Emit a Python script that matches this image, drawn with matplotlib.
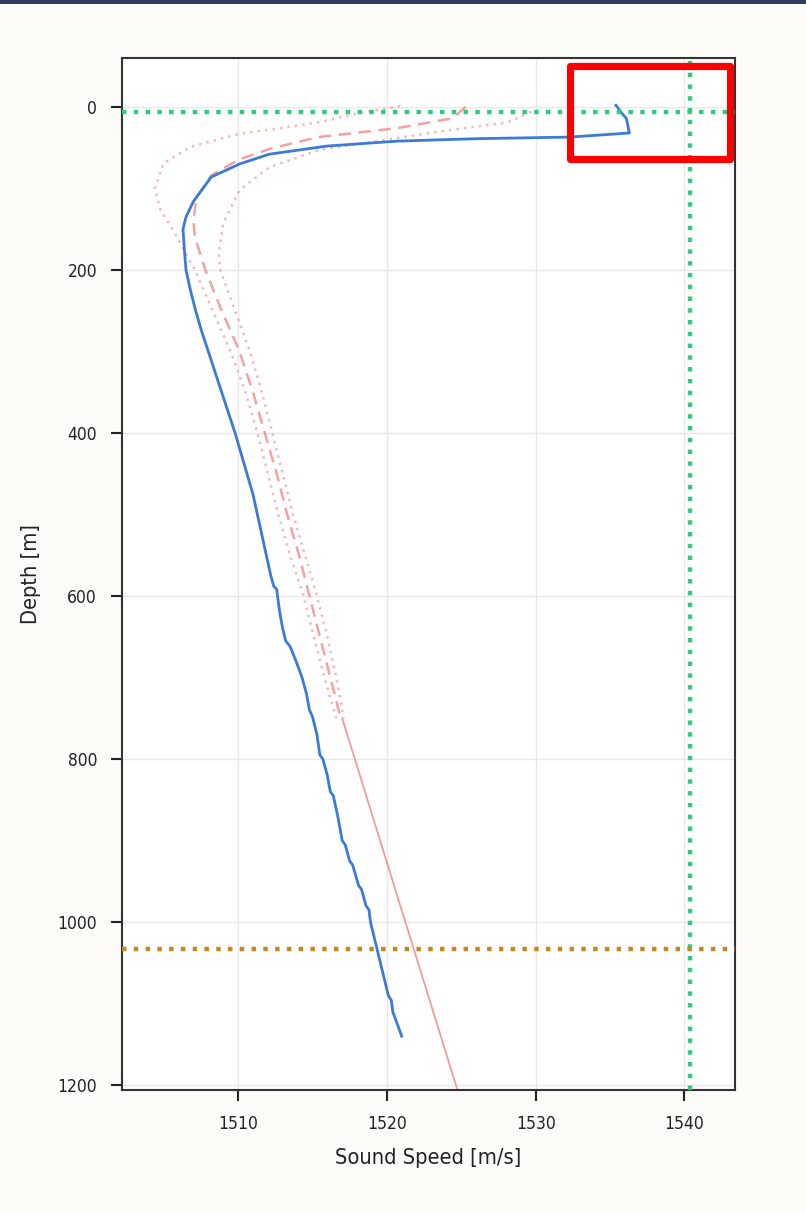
import matplotlib
matplotlib.use("Agg")
import matplotlib.pyplot as plt
from matplotlib.patches import Rectangle

# Measured sound-speed profile (blue)
meas_speed = [1535.4, 1535.8, 1536.1, 1536.3, 1532.3, 1526.0, 1520.7, 1516.0,
              1512.1, 1510.1, 1508.2, 1507.0, 1506.5, 1506.3, 1506.4, 1506.5,
              1506.8, 1507.15, 1507.55, 1508.0, 1508.45, 1508.9, 1509.35, 1509.8,
              1510.2, 1510.6, 1511.0, 1511.3, 1511.6, 1511.9, 1512.2, 1512.4,
              1512.6, 1512.65, 1512.8, 1513.0, 1513.2, 1513.5, 1513.9, 1514.3,
              1514.6, 1514.8, 1515.0, 1515.3, 1515.5, 1515.7, 1516.0, 1516.2,
              1516.4, 1516.7, 1517.0, 1517.2, 1517.5, 1517.7, 1518.1, 1518.3,
              1518.6, 1518.8, 1518.9, 1519.3, 1519.7, 1520.1, 1520.3, 1520.4,
              1520.7, 1521.0]
meas_depth = [-2, 8, 14, 32, 37, 39, 42, 48,
              58, 70, 86, 116, 135, 150, 177, 200,
              225, 250, 275, 300, 325, 350, 375, 400,
              425, 450, 475, 500, 525, 550, 575, 588,
              592, 600, 620, 640, 655, 662, 680, 700,
              720, 740, 748, 770, 795, 800, 820, 840,
              845, 870, 900, 905, 925, 930, 955, 960,
              980, 985, 1000, 1030, 1060, 1090, 1096, 1110,
              1125, 1140]

# Climatological mean profile (dashed)
mean_speed = [1525.3, 1524.4, 1520.7, 1515.4, 1512.2, 1510.0, 1508.2, 1507.2,
              1507.0, 1507.1, 1507.4, 1507.8, 1508.9, 1510.1, 1511.0, 1511.8,
              1512.6, 1513.3, 1514.1, 1514.8, 1515.5, 1516.2, 1516.9]
mean_depth = [0, 14, 26, 37, 51, 65, 84, 111,
              140, 160, 177, 200, 250, 300, 350, 400,
              450, 500, 550, 600, 650, 700, 750]

# Lower and upper envelope (dotted)
low_speed = [1520.9, 1518.0, 1515.4, 1512.5, 1510.1, 1506.8, 1505.0, 1504.4,
             1504.8, 1505.6, 1506.5, 1507.1, 1508.3, 1509.5, 1510.5, 1511.3,
             1512.0, 1512.7, 1513.5, 1514.4, 1515.1, 1515.8, 1516.6]
low_depth = [-1, 8, 19, 27, 33, 49, 69, 100,
             127, 150, 180, 200, 250, 300, 350, 400,
             450, 500, 550, 600, 650, 700, 750]

high_speed = [1529.7, 1528.1, 1524.0, 1520.7, 1515.4, 1512.1, 1510.1, 1509.0,
              1508.7, 1508.8, 1509.8, 1510.8, 1511.6, 1512.3, 1513.0, 1513.7,
              1514.5, 1515.3, 1516.0, 1516.6, 1517.1]
high_depth = [6, 19, 29, 38, 53, 74, 102, 143,
              180, 200, 250, 300, 350, 400, 450, 500,
              550, 600, 650, 700, 750]

# Deep linear extension of the mean profile
deep_speed = [1517.0, 1524.9]
deep_depth = [750, 1215]

# Reference markers
surface_depth = 6.5
bottom_depth = 1033
ref_speed = 1540.4

xticks = [1510, 1520, 1530, 1540]
yticks = [0, 200, 400, 600, 800, 1000, 1200]

W, H = 806, 1213
fig = plt.figure(figsize=(W / 100, H / 100), dpi=100, facecolor="#fcfbf8")
ax = fig.add_axes([122 / W, 1 - 1090 / H, (735 - 122) / W, (1090 - 58) / H])
ax.set_facecolor("white")

ax.plot(low_speed, low_depth, linestyle=(0, (1, 2)), color="#f08a8a",
        lw=1.8, alpha=0.6, zorder=2)
ax.plot(high_speed, high_depth, linestyle=(0, (1, 2)), color="#f08a8a",
        lw=1.8, alpha=0.6, zorder=2)
ax.plot(mean_speed, mean_depth, linestyle=(0, (5, 3)), color="#f08a8a",
        lw=1.8, alpha=0.8, zorder=2)
ax.plot(deep_speed, deep_depth, color="#f08a8a", lw=1.3, alpha=0.85, zorder=2)
ax.plot(meas_speed, meas_depth, color="#3a7bd5", lw=2.0, zorder=3)

ax.axhline(surface_depth, color="#2ecc80", lw=3.2, linestyle=":", zorder=4)
ax.axvline(ref_speed, color="#2ecc80", lw=3.2, linestyle=":", zorder=4)
ax.axhline(bottom_depth, color="#c8861e", lw=3.2, linestyle=":", zorder=4)

ax.set_xlim(1502.2, 1543.4)
ax.set_ylim(1206, -60)
ax.set_xticks(xticks)
ax.set_yticks(yticks)
ax.grid(True, color="#e8e8e8", lw=1.0, zorder=0)
ax.set_axisbelow(True)

font = dict(family="DejaVu Sans", stretch="condensed")
ax.tick_params(direction="out", length=8, width=1.5, pad=10,
               labelsize=12.5, colors="#222222")
for lab in ax.get_xticklabels() + ax.get_yticklabels():
    lab.set_fontstretch("condensed")
for sp in ax.spines.values():
    sp.set_color("#333333")
    sp.set_linewidth(1.5)

ax.set_xlabel("Sound Speed [m/s]", fontsize=15.7, labelpad=11,
              color="#222222", **font)
ax.set_ylabel("Depth [m]", fontsize=15.7, labelpad=12,
              color="#222222", **font)

# Dark band along the top edge
fig.patches.append(Rectangle((0, 1 - 4 / H), 1, 4 / H, transform=fig.transFigure,
                             facecolor="#2c3e5c", edgecolor="none", zorder=10))
# Highlight box around the surface reading
fig.patches.append(Rectangle((569.5 / W, 1 - 158.5 / H), 160 / W, 93 / H,
                             transform=fig.transFigure, facecolor="none",
                             edgecolor="#ff0000", lw=5.2, zorder=10,
                             joinstyle="round"))

fig.savefig("out.png", dpi=100, facecolor=fig.get_facecolor())
